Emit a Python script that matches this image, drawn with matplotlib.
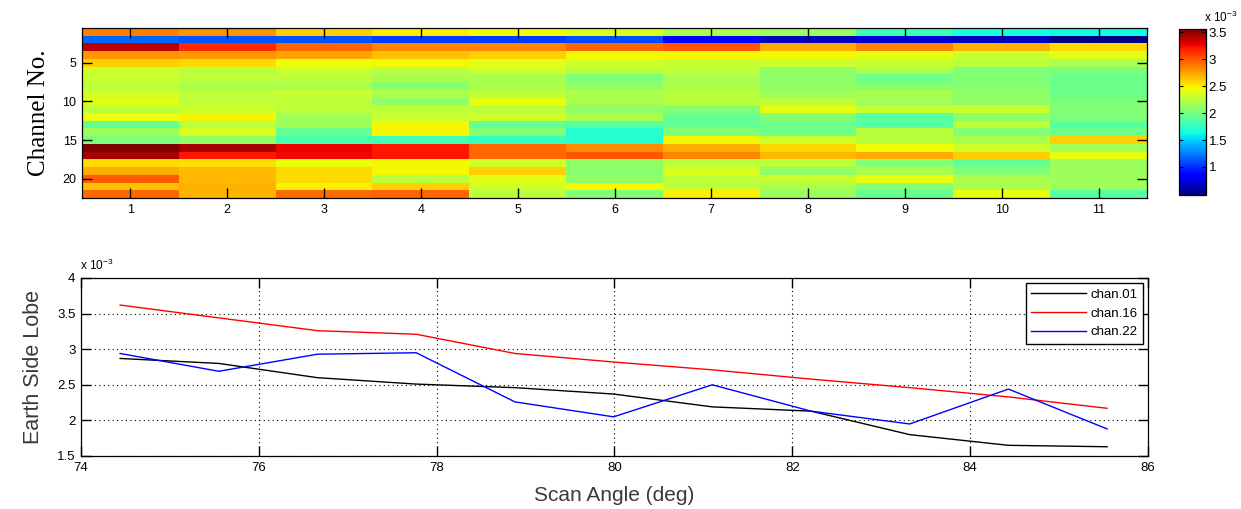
import matplotlib
matplotlib.use("Agg")
import matplotlib.pyplot as plt
import numpy as np

# ---------------- data (units of 1e-3) ----------------
positions = list(range(1, 12))
channels = list(range(1, 23))

scan_angle = [74.44, 75.55, 76.66, 77.77, 78.88, 79.99, 81.10, 82.21, 83.32, 84.43, 85.54]
chan01 = [2.87, 2.80, 2.60, 2.51, 2.46, 2.37, 2.19, 2.13, 1.80, 1.65, 1.63]
chan16 = [3.62, 3.44, 3.26, 3.21, 2.94, 2.82, 2.71, 2.58, 2.46, 2.33, 2.17]
chan22 = [2.94, 2.69, 2.93, 2.95, 2.26, 2.05, 2.50, 2.13, 1.95, 2.44, 1.88]

row02 = [1.17, 1.12, 1.12, 1.05, 1.05, 1.10, 0.85, 0.65, 0.70, 0.65, 0.50]
row03 = [3.40, 3.15, 2.95, 2.85, 2.85, 2.95, 3.00, 2.72, 2.85, 2.70, 2.57]
row04 = [2.80, 2.78, 2.75, 2.65, 2.60, 2.47, 2.47, 2.47, 2.40, 2.30, 2.40]
row05 = [2.60, 2.57, 2.45, 2.47, 2.40, 2.33, 2.30, 2.30, 2.30, 2.25, 2.20]
row06 = [2.33, 2.25, 2.33, 2.25, 2.33, 2.25, 2.27, 2.10, 2.20, 2.02, 2.02]
row07 = [2.30, 2.27, 2.27, 2.20, 2.20, 2.02, 2.20, 2.10, 1.97, 2.05, 1.97]
row08 = [2.27, 2.20, 2.20, 2.07, 2.20, 2.10, 2.20, 2.10, 2.05, 2.05, 1.97]
row09 = [2.33, 2.27, 2.30, 2.20, 2.27, 2.20, 2.25, 2.15, 2.20, 2.10, 1.97]
row10 = [2.40, 2.27, 2.27, 2.10, 2.43, 2.20, 2.25, 2.27, 2.15, 2.10, 2.02]
row11 = [2.27, 2.33, 2.27, 2.27, 2.27, 2.10, 2.05, 2.42, 2.30, 2.30, 2.05]
row12 = [2.45, 2.48, 2.15, 2.30, 2.33, 2.20, 1.93, 2.05, 1.88, 2.10, 2.02]
row13 = [1.93, 2.25, 2.15, 2.47, 1.93, 1.88, 1.93, 1.97, 1.88, 2.27, 1.88]
row14 = [2.15, 2.38, 1.93, 2.47, 2.05, 1.70, 2.05, 1.97, 2.25, 2.05, 1.97]
row15 = [2.02, 2.10, 1.83, 1.80, 1.75, 1.70, 2.47, 2.33, 2.25, 2.20, 2.60]
row17 = [3.45, 3.20, 3.25, 3.20, 2.94, 3.00, 2.85, 2.68, 2.72, 2.60, 2.42]
row18 = [2.57, 2.55, 2.45, 2.47, 2.33, 2.10, 2.25, 2.25, 2.05, 1.93, 2.15]
row19 = [2.72, 2.68, 2.57, 2.47, 2.60, 2.07, 2.38, 2.10, 2.20, 2.05, 2.15]
row20 = [2.98, 2.68, 2.57, 2.25, 2.40, 2.10, 2.27, 2.30, 2.42, 2.20, 2.15]
row21 = [2.65, 2.70, 2.50, 2.60, 2.33, 2.47, 2.27, 2.20, 2.05, 2.20, 2.15]

heat = np.array([chan01, row02, row03, row04, row05, row06, row07, row08, row09,
                 row10, row11, row12, row13, row14, row15, chan16, row17, row18,
                 row19, row20, row21, chan22])

x_ticks_top = [1, 2, 3, 4, 5, 6, 7, 8, 9, 10, 11]
y_ticks_top = [5, 10, 15, 20]
cb_ticks = [1, 1.5, 2, 2.5, 3, 3.5]
x_ticks_bot = [74, 76, 78, 80, 82, 84, 86]
y_ticks_bot = [1.5, 2, 2.5, 3, 3.5, 4]

# ---------------- figure ----------------
W, H = 1241, 509
fig = plt.figure(figsize=(W / 100, H / 100), dpi=100)
sans = ['Liberation Sans Narrow', 'Liberation Sans', 'DejaVu Sans']
plt.rcParams['font.family'] = sans

def rect(l, t, r, b):
    return [l / W, 1 - b / H, (r - l) / W, (b - t) / H]

# heatmap
ax1 = fig.add_axes(rect(82, 28, 1147, 198))
im = ax1.imshow(heat, cmap='jet', aspect='auto', interpolation='nearest',
                vmin=0.48, vmax=3.56,
                extent=[0.5, 11.5, 22.5, 0.5])
ax1.set_xticks(x_ticks_top)
ax1.set_yticks(y_ticks_top)
ax1.tick_params(direction='in', length=7, width=1, top=True, right=True,
                labelsize=9, pad=4)
ax1.set_ylabel('Channel No.', family=['Liberation Serif', 'DejaVu Serif'],
               fontsize=18, labelpad=9)
for s in ax1.spines.values():
    s.set_linewidth(0.9)

# colorbar
cax = fig.add_axes(rect(1179, 29, 1206, 195))
cb = fig.colorbar(im, cax=cax, ticks=cb_ticks)
cb.ax.set_yticklabels(['1', '1.5', '2', '2.5', '3', '3.5'])
cb.ax.tick_params(direction='in', length=3, width=0.8, left=True, right=True,
                  labelsize=9.5, pad=2)
cb.outline.set_linewidth(0.9)
fig.text(1204 / W, 1 - 17 / H, r'x 10$^{\mathregular{-3}}$', fontsize=8.5,
         ha='left', va='center')

# line plot
ax2 = fig.add_axes(rect(81, 278, 1148, 456))
ax2.plot(scan_angle, chan01, color='black', lw=1.0, label='chan.01')
ax2.plot(scan_angle, chan16, color='red', lw=1.0, label='chan.16')
ax2.plot(scan_angle, chan22, color='blue', lw=1.0, label='chan.22')
ax2.set_xlim(74, 86)
ax2.set_ylim(1.5, 4)
ax2.set_xticks(x_ticks_bot)
ax2.set_yticks(y_ticks_bot)
ax2.set_yticklabels(['1.5', '2', '2.5', '3', '3.5', '4'])
ax2.grid(True, color='black', linestyle=(0, (1, 3)), linewidth=0.8)
ax2.tick_params(direction='in', length=7, width=1, top=True, right=True,
                labelsize=9.5, pad=4)
for s in ax2.spines.values():
    s.set_linewidth(0.9)
ax2.set_xlabel('Scan Angle (deg)', fontsize=15, color='#3a3a3a',
               family=['Liberation Sans', 'DejaVu Sans'], labelpad=9)
ax2.set_ylabel('Earth Side Lobe', fontsize=15.5, color='#3a3a3a',
               family=['Liberation Sans', 'DejaVu Sans'], labelpad=9)
fig.text(80 / W, 1 - 265 / H, r'x 10$^{\mathregular{-3}}$', fontsize=8.5,
         ha='left', va='center')
leg = ax2.legend(loc='upper right', fontsize=9.5, frameon=True, fancybox=False,
                 edgecolor='black', framealpha=1, borderpad=0.4,
                 handlelength=4.2, handletextpad=0.3, labelspacing=0.5,
                 borderaxespad=0.4)
leg.get_frame().set_linewidth(1.0)

fig.savefig('out.png', dpi=100)
